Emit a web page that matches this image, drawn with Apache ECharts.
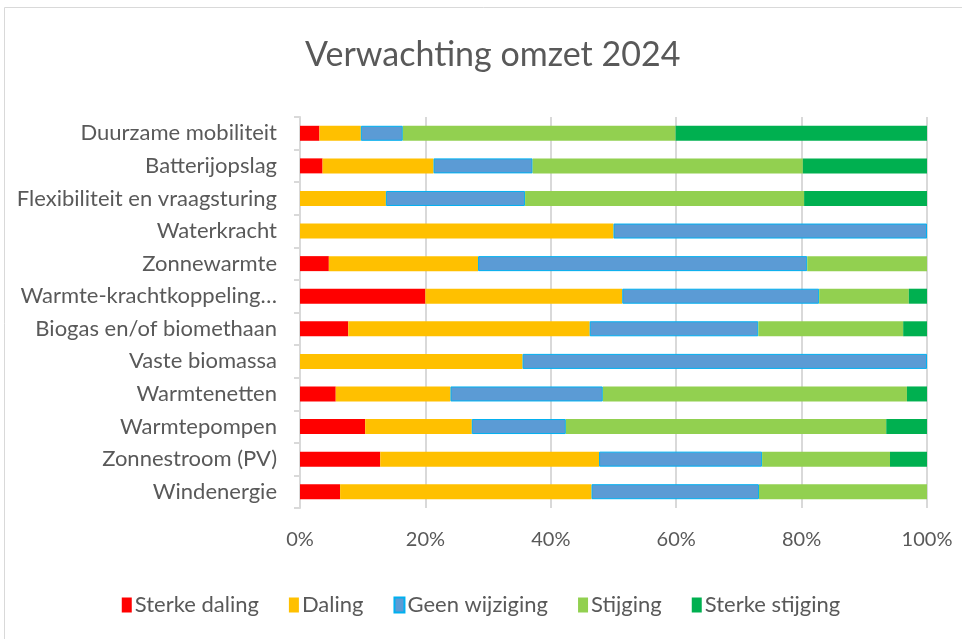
<!DOCTYPE html>
<html>
<head>
<meta charset="utf-8">
<script src="https://cdn.jsdelivr.net/npm/echarts@6/dist/echarts.min.js"></script>
<style>
  html, body { margin: 0; padding: 0; background: #fff; }
  #chart { width: 962px; height: 639px; }
</style>
</head>
<body>
<div id="chart"></div>
<script>
const categories = [
  'Duurzame mobiliteit', 'Batterijopslag', 'Flexibiliteit en vraagsturing', 'Waterkracht',
  'Zonnewarmte', 'Warmte-krachtkoppeling…', 'Biogas en/of biomethaan', 'Vaste biomassa',
  'Warmtenetten', 'Warmtepompen', 'Zonnestroom (PV)', 'Windenergie'
]
const sterkeDaling   = [3.1, 3.6, 0, 0, 4.6, 20.0, 7.7, 0, 5.7, 10.4, 12.8, 6.4]
const daling         = [6.6, 17.7, 13.7, 50, 23.8, 31.4, 38.5, 35.5, 18.3, 17.0, 34.9, 40.1]
const geenWijziging  = [6.7, 15.8, 22.2, 50, 52.5, 31.4, 26.9, 64.5, 24.3, 15.0, 26.0, 26.7]
const stijging       = [43.5, 43.1, 44.5, 0, 19.1, 14.3, 23.1, 0, 48.5, 51.1, 20.4, 26.8]
const sterkeStijging = [40.1, 19.8, 19.6, 0, 0, 2.9, 3.8, 0, 3.2, 6.5, 5.9, 0]
const xTicks = [0, 20, 40, 60, 80, 100]

const font = 'Lato'
const textColor = '#595959'

const mk = (name, data, color, border) => ({
  name,
  type: 'bar',
  stack: 'total',
  data,
  barWidth: 15,
  itemStyle: border ? { color, borderColor: border, borderWidth: 1 } : { color },
  emphasis: { disabled: true }
})

const chart = echarts.init(document.getElementById('chart'))
chart.setOption({
  animation: false,
  textStyle: { fontFamily: font },
  graphic: [{
    type: 'rect',
    shape: { x: 4.5, y: 7.5, width: 960, height: 640 },
    style: { fill: 'none', stroke: '#d9d9d9', lineWidth: 1 },
    silent: true
  }],
  title: {
    text: 'Verwachting omzet 2024',
    left: 300,
    top: 33,
    textStyle: { fontFamily: font, fontSize: 34, fontWeight: 'normal', color: textColor }
  },
  legend: {
    bottom: 18,
    left: 'center',
    itemWidth: 10,
    itemHeight: 15,
    itemGap: 30,
    icon: 'rect',
    textStyle: { fontFamily: font, fontSize: 22, color: textColor, padding: [0, 0, 0, -2] }
  },
  grid: { left: 300, right: 35, top: 117, bottom: 131, containLabel: false },
  xAxis: {
    type: 'value',
    min: 0,
    max: 100,
    interval: 20,
    axisLine: { show: false },
    axisTick: { show: false },
    splitLine: { lineStyle: { color: '#d9d9d9', width: 2 } },
    axisLabel: {
      fontFamily: font, fontSize: 20, color: textColor, margin: 22,
      formatter: v => xTicks.includes(v) ? v + '%' : ''
    }
  },
  yAxis: {
    type: 'category',
    inverse: true,
    data: categories,
    axisLine: { lineStyle: { color: '#d9d9d9', width: 2 } },
    axisTick: { show: true, length: 6, lineStyle: { color: '#d9d9d9', width: 2 } },
    axisLabel: { fontFamily: font, fontSize: 22, color: textColor, margin: 23 }
  },
  series: [
    mk('Sterke daling', sterkeDaling, '#ff0000'),
    mk('Daling', daling, '#ffc000'),
    mk('Geen wijziging', geenWijziging, '#5b9bd5', '#00b0f0'),
    mk('Stijging', stijging, '#92d050'),
    mk('Sterke stijging', sterkeStijging, '#00b050')
  ]
})
</script>
</body>
</html>
